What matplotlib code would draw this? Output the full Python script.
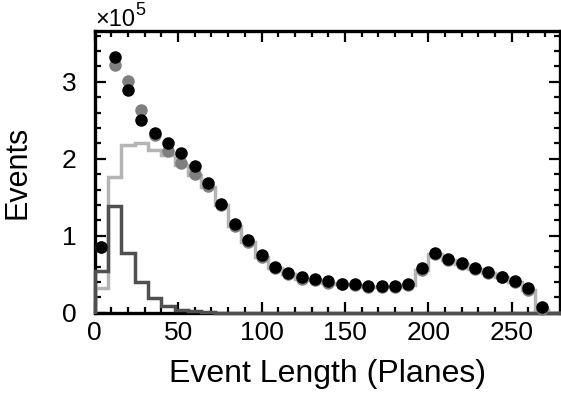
import numpy as np
import matplotlib
matplotlib.use("Agg")
import matplotlib.pyplot as plt
from matplotlib.ticker import MultipleLocator

plt.rcParams["font.family"] = ["Liberation Sans", "DejaVu Sans"]

# event length bins (planes), 8 planes per bin
bin_edges = np.arange(0, 281, 8)
bin_centers = (bin_edges[:-1] + bin_edges[1:]) / 2

# all values in units of 1e5 events
data_events = [0.85, 3.32, 2.90, 2.51, 2.33, 2.21, 2.07, 1.91, 1.69, 1.42,
               1.15, 0.94, 0.75, 0.60, 0.52, 0.46, 0.44, 0.41, 0.38, 0.375,
               0.35, 0.35, 0.35, 0.37, 0.58, 0.775, 0.70, 0.645, 0.585, 0.53,
               0.47, 0.415, 0.32, 0.07]
mc_total = [0.86, 3.22, 3.01, 2.63, 2.31, 2.10, 1.94, 1.80, 1.65, 1.40,
            1.13, 0.92, 0.73, 0.58, 0.50, 0.44, 0.42, 0.39, 0.37, 0.36,
            0.34, 0.34, 0.34, 0.36, 0.55, 0.76, 0.69, 0.63, 0.57, 0.52,
            0.46, 0.40, 0.30, 0.05]
mc_light = [0.32, 1.76, 2.18, 2.21, 2.12, 2.05, 1.92, 1.79, 1.64, 1.40,
            1.13, 0.92, 0.73, 0.58, 0.50, 0.44, 0.42, 0.39, 0.37, 0.36,
            0.34, 0.34, 0.34, 0.36, 0.55, 0.76, 0.69, 0.63, 0.57, 0.52,
            0.46, 0.40, 0.30, 0.04, 0.0]
mc_dark = [0.54, 1.385, 0.78, 0.40, 0.19, 0.09, 0.04, 0.02, 0.01, 0.0,
           0.0, 0.0, 0.0, 0.0, 0.0, 0.0, 0.0, 0.0, 0.0, 0.0,
           0.0, 0.0, 0.0, 0.0, 0.0, 0.0, 0.0, 0.0, 0.0, 0.0,
           0.0, 0.0, 0.0, 0.0, 0.0]

fig = plt.figure(figsize=(5.61, 3.98), dpi=100)
ax = fig.add_axes([0.169, 0.214, 0.829, 0.708])

ax.stairs(mc_light, bin_edges, color="#b4b4b4", linewidth=2.5, clip_on=False, zorder=3)
ax.stairs(mc_dark, bin_edges, color="#505050", linewidth=2.5, clip_on=False, zorder=4)

n = len(data_events)
ax.plot(bin_centers[:n], mc_total, "o", color="#7f7f7f", markersize=9,
        markeredgewidth=0, clip_on=False, zorder=5)
ax.plot(bin_centers[:n], data_events, "o", color="black", markersize=9,
        markeredgewidth=0, clip_on=False, zorder=6)

ax.set_xlim(0, 279)
ax.set_ylim(0, 3.66)

ax.xaxis.set_major_locator(MultipleLocator(50))
ax.xaxis.set_minor_locator(MultipleLocator(10))
ax.yaxis.set_major_locator(MultipleLocator(1))
ax.yaxis.set_minor_locator(MultipleLocator(0.2))

ax.tick_params(which="both", direction="in", top=True, right=True,
               width=1.6, labelsize=19)
ax.tick_params(which="major", length=8, pad=6)
ax.tick_params(which="minor", length=4)
ax.tick_params(axis="y", which="major", pad=13)
for side in ax.spines.values():
    side.set_linewidth(2.4)

ax.set_xlabel("Event Length (Planes)", fontsize=23, labelpad=10)
ax.set_ylabel("Events", fontsize=22, labelpad=21)

# scale factor label above the y axis
fig.text(95 / 561, 1 - 26 / 398, "×10", fontsize=17, ha="left", va="baseline")
fig.text(135 / 561, 1 - 15 / 398, "5", fontsize=13, ha="left", va="baseline")

fig.savefig("out.png", dpi=100)
